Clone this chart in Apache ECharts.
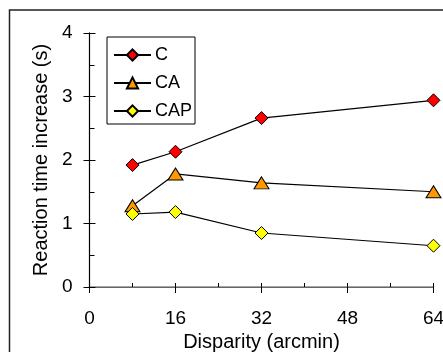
<!DOCTYPE html>
<html>
<head>
<meta charset="utf-8">
<script src="https://cdn.jsdelivr.net/npm/echarts@6/dist/echarts.min.js"></script>
<style>
  html, body { margin: 0; padding: 0; background: #fff; }
  #chart { width: 443px; height: 352px; }
</style>
</head>
<body>
<div id="chart"></div>
<script>
// disparity values (arcmin)
const disparity = [8, 16, 32, 64];
// reaction time increase (s)
const valuesC = [1.92, 2.13, 2.66, 2.94];
const valuesCA = [1.28, 1.78, 1.64, 1.50];
const valuesCAP = [1.15, 1.18, 0.85, 0.65];
const seriesNames = ['C', 'CA', 'CAP'];
const seriesColors = ['#ff0000', '#ff9900', '#ffff00'];

const FONT = 'Liberation Sans, Arial, sans-serif';

const chart = echarts.init(document.getElementById('chart'), null, { renderer: 'canvas' });

const toPairs = (ys) => disparity.map((x, i) => [x, ys[i]]);

const baseX = { type: 'value', min: 0, max: 64, interval: 16, gridIndex: 0, splitLine: { show: false } };
const baseY = { type: 'value', min: 0, max: 4, interval: 1, gridIndex: 0, splitLine: { show: false } };

const option = {
	backgroundColor: '#fff',
	animation: false,
	textStyle: { fontFamily: FONT, color: '#000' },
	graphic: [
		{
			type: 'rect',
			shape: { x: 9.5, y: 10, width: 480, height: 400 },
			style: { fill: 'none', stroke: '#222', lineWidth: 1.5 },
			silent: true,
		},
	],
	grid: { left: 89.5, right: 9.5, top: 33, bottom: 65, outerBoundsMode: 'none', containLabel: false },
	legend: {
		orient: 'vertical',
		left: 107,
		top: 37,
		padding: [9, 3, 4, 6],
		itemGap: 10,
		itemWidth: 37,
		itemHeight: 14,
		borderColor: '#000',
		borderWidth: 1,
		textStyle: { fontFamily: FONT, fontSize: 18, color: '#000', padding: [0, 0, 0, -1] },
		data: seriesNames,
	},
	xAxis: [
		Object.assign({}, baseX, {
			position: 'bottom',
			axisLine: { lineStyle: { color: '#000', width: 1 } },
			axisTick: { inside: true, length: 4, lineStyle: { color: '#000' } },
			minorTick: { show: true, splitNumber: 2, length: 4, lineStyle: { color: '#000' } },
			axisLabel: { fontSize: 19, color: '#000', margin: 22, fontFamily: FONT },
			name: 'Disparity (arcmin)',
			nameLocation: 'middle',
			nameGap: 37,
			nameTextStyle: { fontSize: 20, color: '#000', fontFamily: FONT },
		}),
		Object.assign({}, baseX, {
			position: 'bottom',
			offset: 0,
			axisLine: { show: false },
			axisTick: { inside: false, length: 6, lineStyle: { color: '#000' } },
			axisLabel: { show: false },
		}),
		Object.assign({}, baseX, {
			position: 'top',
			axisLine: { lineStyle: { color: '#888', width: 1.5 } },
			axisTick: { show: false },
			axisLabel: { show: false },
		}),
	],
	yAxis: [
		Object.assign({}, baseY, {
			position: 'left',
			axisLine: { lineStyle: { color: '#000', width: 1 } },
			axisTick: { inside: true, length: 6, lineStyle: { color: '#000' } },
			minorTick: { show: true, splitNumber: 2, length: 5, lineStyle: { color: '#000' } },
			axisLabel: { fontSize: 19, color: '#000', margin: 17, fontFamily: FONT },
			name: 'Reaction time increase (s)',
			nameLocation: 'middle',
			nameGap: 38,
			nameTextStyle: { fontSize: 20, color: '#000', fontFamily: FONT },
		}),
		Object.assign({}, baseY, {
			position: 'left',
			offset: 0,
			axisLine: { show: false },
			axisTick: { inside: false, length: 6, lineStyle: { color: '#000' } },
			axisLabel: { show: false },
		}),
		Object.assign({}, baseY, {
			position: 'right',
			axisLine: { lineStyle: { color: '#000', width: 1.2 } },
			axisTick: { show: false },
			axisLabel: { show: false },
		}),
	],
	series: [
		{
			name: 'C',
			type: 'line',
			data: toPairs(valuesC),
			symbol: 'diamond',
			symbolSize: 13,
			itemStyle: { color: seriesColors[0], borderColor: '#000', borderWidth: 1 },
			lineStyle: { color: '#000', width: 1.2 },
		},
		{
			name: 'CA',
			type: 'line',
			data: toPairs(valuesCA),
			symbol: 'triangle',
			symbolSize: [15, 12],
			itemStyle: { color: seriesColors[1], borderColor: '#000', borderWidth: 1 },
			lineStyle: { color: '#000', width: 1.2 },
		},
		{
			name: 'CAP',
			type: 'line',
			data: toPairs(valuesCAP),
			symbol: 'diamond',
			symbolSize: 13,
			itemStyle: { color: seriesColors[2], borderColor: '#000', borderWidth: 1 },
			lineStyle: { color: '#000', width: 1.2 },
		},
	],
};

chart.setOption(option);
</script>
</body>
</html>
